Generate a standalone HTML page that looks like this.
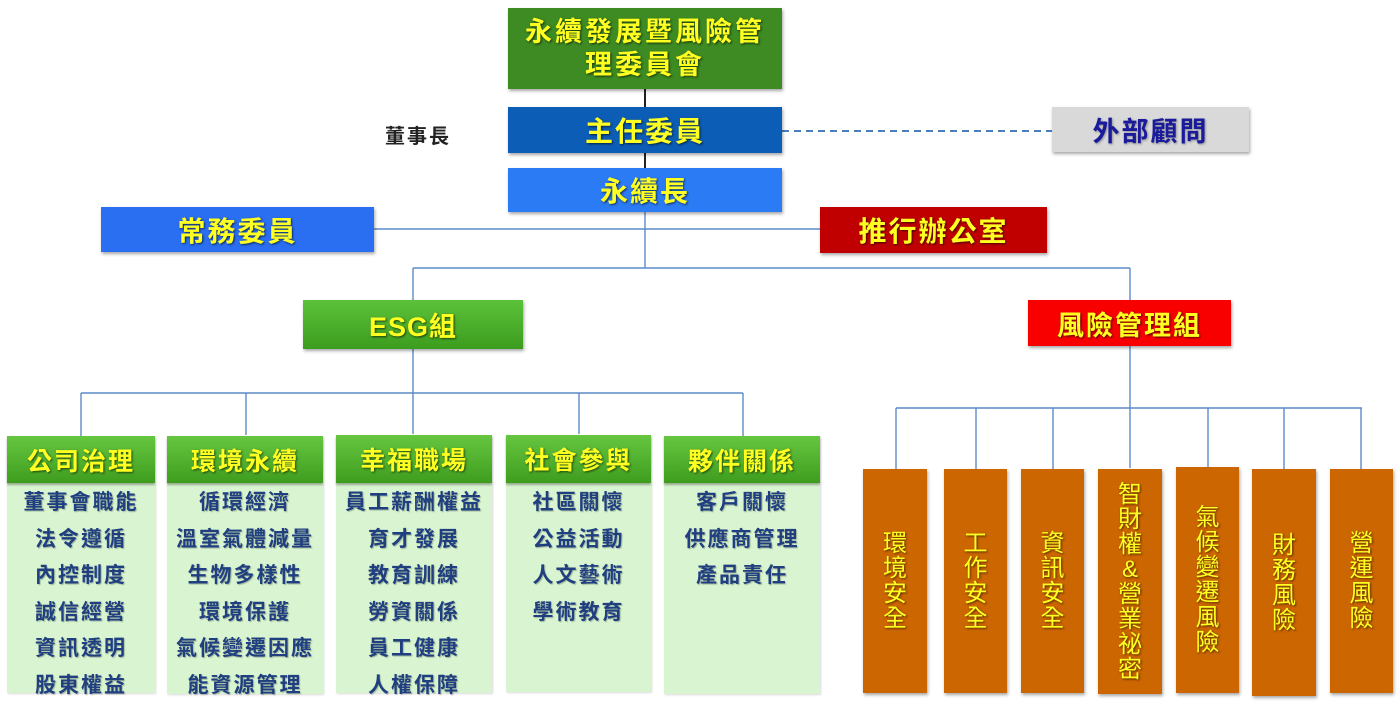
<!DOCTYPE html>
<html>
<head>
<meta charset="utf-8">
<style>
html,body{margin:0;padding:0;background:#fff;}
body{width:1400px;height:715px;position:relative;overflow:hidden;font-family:"Liberation Sans","Noto Sans CJK TC",sans-serif;}
.b{position:absolute;display:flex;align-items:center;justify-content:center;font-weight:bold;color:#ffff22;text-shadow:1px 1px 2px rgba(0,0,0,.65);box-shadow:1px 2px 3px rgba(0,0,0,.35);box-sizing:border-box;text-align:center;}
.col{position:absolute;box-shadow:1px 1px 2px rgba(0,0,0,.15);}
.col .h{height:47px;display:flex;align-items:center;justify-content:center;font-weight:bold;font-size:25px;letter-spacing:2px;color:#ffff22;text-shadow:1px 1px 2px rgba(0,0,0,.6);background:linear-gradient(#66c640,#3f9d1e);box-shadow:0 2px 2px rgba(0,0,0,.3);position:relative;z-index:1;}
.col .bd{background:#d8f4d0;text-align:center;font-weight:bold;font-size:21px;letter-spacing:2px;line-height:36.5px;color:#1f3f80;text-shadow:1px 1px 1px rgba(0,0,0,.25);padding-top:2px;box-sizing:border-box;white-space:nowrap;}
.r{position:absolute;background:#cc6600;display:flex;align-items:center;justify-content:center;font-weight:normal;font-size:24px;line-height:25px;color:#ffff22;text-shadow:1px 1px 2px rgba(0,0,0,.6);box-shadow:1px 2px 3px rgba(0,0,0,.35);text-align:center;}
svg{position:absolute;left:0;top:0;}
</style>
</head>
<body>
<svg width="1400" height="715">
<g stroke="#222" stroke-width="2" fill="none">
<path d="M645 89V107M645 153V168"/>
</g>
<g stroke="#5b8bc8" stroke-width="1.4" fill="none">
<path d="M645 212V268M374 229H820M413 268H1130M413 268V300M1130 268V300"/>
<path d="M413 349V393M81 393H743M81 393V436M246 393V435M413 393V434M579 393V434M743 393V436"/>
<path d="M1130 346V468M896 408H1362M896 408V469M976 408V469M1053 408V469M1208 408V467M1284 408V469M1361 408V469"/>
</g>
<path d="M782 131H1052" stroke="#2f6db5" stroke-width="1.8" stroke-dasharray="7 5" fill="none"/>
</svg>

<div class="b" style="left:508px;top:8px;width:274px;height:81px;background:#3d8b22;font-size:27px;letter-spacing:3px;line-height:33px;">永續發展暨風險管<br>理委員會</div>

<div style="position:absolute;left:385px;top:120px;font-size:20px;letter-spacing:2px;font-weight:bold;color:#222;">董事長</div>

<div class="b" style="left:508px;top:107px;width:274px;height:46px;background:#0c5db6;font-size:28px;letter-spacing:2px;">主任委員</div>
<div class="b" style="left:1052px;top:107px;width:197px;height:45px;background:#d9d9d9;color:#1a1a9c;text-shadow:1px 1px 2px rgba(0,0,0,.35);font-size:27px;letter-spacing:2px;">外部顧問</div>
<div class="b" style="left:508px;top:168px;width:274px;height:44px;background:#2b7cf4;font-size:28px;letter-spacing:2px;">永續長</div>
<div class="b" style="left:101px;top:207px;width:273px;height:45px;background:#2a6ff2;font-size:28px;letter-spacing:2px;">常務委員</div>
<div class="b" style="left:820px;top:207px;width:227px;height:46px;background:#c00000;font-size:28px;letter-spacing:2px;">推行辦公室</div>

<div class="b" style="left:303px;top:300px;width:220px;height:49px;background:linear-gradient(#5cc23a,#3c9c1e);font-size:27px;letter-spacing:1px;">ESG組</div>
<div class="b" style="left:1028px;top:300px;width:203px;height:46px;background:#f80000;font-size:27px;letter-spacing:2px;">風險管理組</div>

<div class="col" style="left:7px;top:436px;width:148px;">
<div class="h">公司治理</div>
<div class="bd" style="height:210px;">董事會職能<br>法令遵循<br>內控制度<br>誠信經營<br>資訊透明<br>股東權益</div>
</div>
<div class="col" style="left:167px;top:436px;width:156px;">
<div class="h">環境永續</div>
<div class="bd" style="height:211px;">循環經濟<br>溫室氣體減量<br>生物多樣性<br>環境保護<br>氣候變遷因應<br>能資源管理</div>
</div>
<div class="col" style="left:336px;top:435px;width:156px;">
<div class="h" style="height:48px;">幸福職場</div>
<div class="bd" style="height:210px;">員工薪酬權益<br>育才發展<br>教育訓練<br>勞資關係<br>員工健康<br>人權保障</div>
</div>
<div class="col" style="left:506px;top:435px;width:145px;">
<div class="h" style="height:48px;">社會參與</div>
<div class="bd" style="height:209px;">社區關懷<br>公益活動<br>人文藝術<br>學術教育</div>
</div>
<div class="col" style="left:664px;top:436px;width:156px;">
<div class="h">夥伴關係</div>
<div class="bd" style="height:211px;">客戶關懷<br>供應商管理<br>產品責任</div>
</div>

<div class="r" style="left:863px;top:469px;width:64px;height:224px;">環<br>境<br>安<br>全</div>
<div class="r" style="left:944px;top:469px;width:63px;height:224px;">工<br>作<br>安<br>全</div>
<div class="r" style="left:1021px;top:469px;width:63px;height:224px;">資<br>訊<br>安<br>全</div>
<div class="r" style="left:1098px;top:469px;width:64px;height:225px;">智<br>財<br>權<br>&amp;<br>營<br>業<br>祕<br>密</div>
<div class="r" style="left:1176px;top:467px;width:63px;height:226px;">氣<br>候<br>變<br>遷<br>風<br>險</div>
<div class="r" style="left:1252px;top:469px;width:64px;height:227px;">財<br>務<br>風<br>險</div>
<div class="r" style="left:1330px;top:469px;width:63px;height:224px;">營<br>運<br>風<br>險</div>
</body>
</html>
